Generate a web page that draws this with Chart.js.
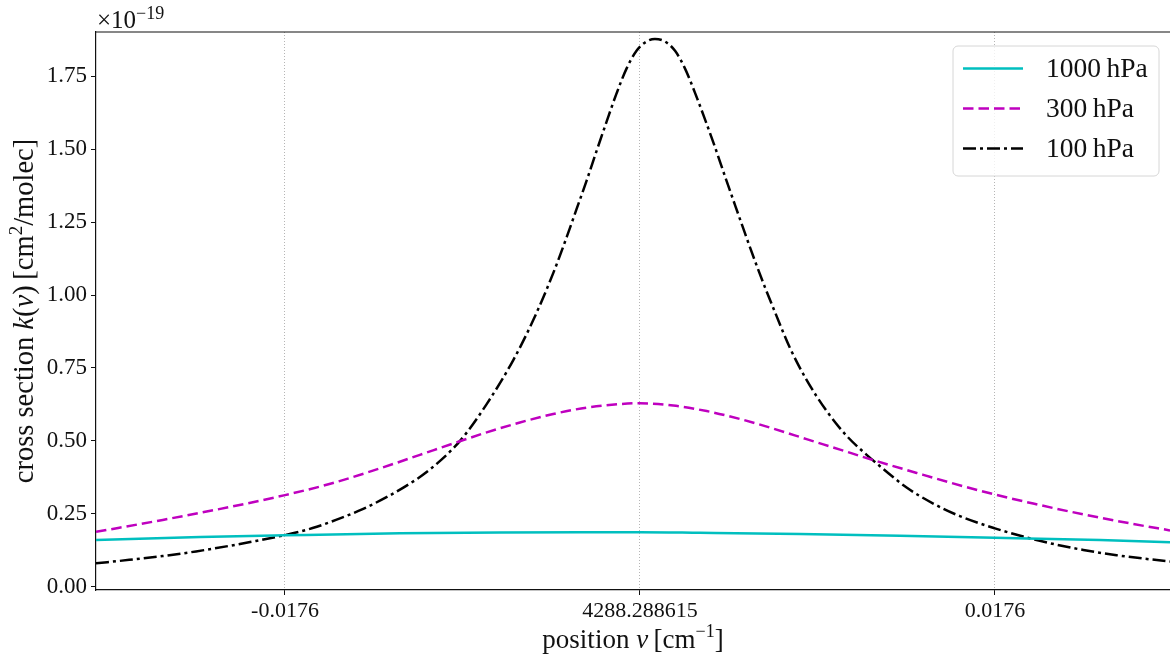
<!DOCTYPE html>
<html lang="en">
<head>
<meta charset="utf-8">
<title>cross section k(ν)</title>
<script src="https://cdn.jsdelivr.net/npm/chart.js@4.4.1/dist/chart.umd.min.js"></script>
<style>
  html, body { margin: 0; padding: 0; background: #fff; }
  #wrap { position: relative; width: 1170px; height: 660px; }
</style>
</head>
<body>
<div id="wrap"><canvas id="chart-profil"></canvas></div>
<script>
/* =========================================================
   Profil de raie : section efficace k(nu) autour du centre
   4288.288615 cm-1, pour trois pressions (1000/300/100 hPa)
   ========================================================= */

/* ---- Données (x = écart au centre en cm-1, y en 1e-19 cm2/molec) ---- */
const nu1000 = [-0.02697, -0.02181, -0.01760, -0.01190, -0.00694, -0.00297, 0, 0.00297, 0.00793, 0.01289, 0.01760, 0.02281, 0.02628];
const k1000  = [0.160, 0.170, 0.176, 0.183, 0.186, 0.187, 0.187, 0.185, 0.181, 0.175, 0.168, 0.160, 0.152];

const nu300 = [-0.02697, -0.02366, -0.02036, -0.01760, -0.01540, -0.01292, -0.01091, -0.00926, -0.00760, -0.00595,
               -0.00430, -0.00264, -0.00099, 0, 0.00165, 0.00331, 0.00496, 0.00661, 0.00826, 0.00992,
               0.01157, 0.01372, 0.01537, 0.01760, 0.01950, 0.02198, 0.02446, 0.02628];
const k300  = [0.188, 0.229, 0.273, 0.314, 0.352, 0.405, 0.452, 0.491, 0.529, 0.563,
               0.592, 0.614, 0.626, 0.629, 0.621, 0.602, 0.575, 0.542, 0.506, 0.470,
               0.434, 0.390, 0.357, 0.316, 0.285, 0.248, 0.215, 0.193];

const nu100 = [-0.02697, -0.02532, -0.02366, -0.02201, -0.02036, -0.01904, -0.01760, -0.01623, -0.01507, -0.01375,
               -0.01259, -0.01144, -0.01041, -0.00892, -0.00760, -0.00628, -0.00529, -0.00430, -0.00363, -0.00314,
               -0.00264, -0.00215, -0.00165, -0.00116, -0.00066, -0.00016, 0.00033, 0.00074, 0.00124, 0.00174,
               0.00223, 0.00273, 0.00322, 0.00372, 0.00421, 0.00471, 0.00521, 0.00570, 0.00620, 0.00669,
               0.00744, 0.00826, 0.00926, 0.01025, 0.01124, 0.01206, 0.01322, 0.01454, 0.01586, 0.01760,
               0.01900, 0.02033, 0.02198, 0.02363, 0.02628];
const k100  = [0.080, 0.092, 0.105, 0.121, 0.140, 0.157, 0.177, 0.201, 0.229, 0.266,
               0.306, 0.352, 0.402, 0.500, 0.626, 0.777, 0.914, 1.075, 1.199, 1.295,
               1.393, 1.494, 1.595, 1.691, 1.777, 1.838, 1.869, 1.878, 1.869, 1.837,
               1.777, 1.693, 1.603, 1.507, 1.408, 1.309, 1.211, 1.117, 1.026, 0.942,
               0.818, 0.709, 0.602, 0.517, 0.452, 0.404, 0.340, 0.285, 0.242, 0.200,
               0.172, 0.149, 0.126, 0.108, 0.086];

const seriesLabels = ['1000\u2009hPa', '300\u2009hPa', '100\u2009hPa'];

/* ---- Graduations ---- */
const xTicks      = [-0.0176, 0, 0.0176];
const xTickLabels = ['-0.0176', '4288.288615', '0.0176'];
const yTicks      = [0, 0.25, 0.5, 0.75, 1.0, 1.25, 1.5, 1.75];

const X_MIN = -0.02697, X_MAX = 0.02628;
const Y_MIN = -0.0113,  Y_MAX = 1.9016;

const SERIF = '"Liberation Serif", "DejaVu Serif", serif';
const INK   = '#111';

function serie(nu, k) {
  return nu.map((x, i) => ({ x, y: k[i] }));
}

/* texte avec morceaux de polices différentes (italique, exposants) */
function texteRiche(ctx, morceaux, x, y, align = 'center') {
  let largeur = 0;
  morceaux.forEach(([t, f]) => { ctx.font = f; largeur += ctx.measureText(t).width; });
  let cx = align === 'center' ? x - largeur / 2 : x;
  morceaux.forEach(([t, f, dy = 0]) => {
    ctx.font = f;
    ctx.fillText(t, cx, y + dy);
    cx += ctx.measureText(t).width;
  });
}

/* ---- Plugin : cadre haut, titres d'axes, facteur 1e-19 ---- */
const habillage = {
  id: 'habillage',
  afterDraw(chart) {
    const { ctx, chartArea: a } = chart;
    ctx.save();

    /* spine du haut */
    ctx.strokeStyle = INK;
    ctx.lineWidth = 1.2;
    ctx.beginPath();
    ctx.moveTo(a.left - 0.6, a.top);
    ctx.lineTo(a.right, a.top);
    ctx.stroke();

    ctx.fillStyle = INK;
    ctx.textAlign = 'left';
    ctx.textBaseline = 'alphabetic';

    /* titre axe x */
    const rx = `27px ${SERIF}`, ix = `italic 27px ${SERIF}`, sx = `18px ${SERIF}`;
    texteRiche(ctx, [
      ['position ', rx], ['ν', ix], ['\u2009[cm', rx], ['−1', sx, -11], [']', rx],
    ], (a.left + a.right) / 2, 648);

    /* titre axe y (vertical) */
    const ry = `28.5px ${SERIF}`, iy = `italic 28.5px ${SERIF}`, sy = `19px ${SERIF}`;
    ctx.save();
    ctx.translate(33, (a.top + a.bottom) / 2);
    ctx.rotate(-Math.PI / 2);
    texteRiche(ctx, [
      ['cross section ', ry], ['k', iy], ['(', ry], ['ν', iy], [')\u2009[cm', ry],
      ['2', sy, -11], ['/molec]', ry],
    ], 0, 0);
    ctx.restore();

    /* facteur d'échelle */
    texteRiche(ctx, [
      ['×10', `25px ${SERIF}`], ['−19', `18px ${SERIF}`, -9],
    ], a.left + 1, 28, 'left');

    ctx.restore();
  },
};

/* ---- Plugin : légende encadrée en haut à droite ---- */
const legendeCadre = {
  id: 'legendeCadre',
  afterDraw(chart) {
    const { ctx, chartArea: a } = chart;
    const w = 206, h = 130;
    const x0 = a.right - 11 - w, y0 = a.top + 14;

    ctx.save();
    ctx.beginPath();
    ctx.roundRect(x0, y0, w, h, 5);
    ctx.fillStyle = 'rgba(255,255,255,0.8)';
    ctx.fill();
    ctx.strokeStyle = '#d6d6d6';
    ctx.lineWidth = 1;
    ctx.stroke();

    chart.data.datasets.forEach((ds, i) => {
      const y = y0 + 22.5 + i * 40;
      ctx.beginPath();
      ctx.setLineDash(ds.borderDash || []);
      ctx.lineCap = 'butt';
      ctx.strokeStyle = ds.borderColor;
      ctx.lineWidth = ds.borderWidth;
      ctx.moveTo(x0 + 10, y);
      ctx.lineTo(x0 + 70, y);
      ctx.stroke();

      ctx.setLineDash([]);
      ctx.fillStyle = INK;
      ctx.font = `27.5px ${SERIF}`;
      ctx.textAlign = 'left';
      ctx.textBaseline = 'middle';
      ctx.fillText(ds.label, x0 + 93, y + 1);
    });
    ctx.restore();
  },
};

/* ---- Graphique ---- */
new Chart(document.getElementById('chart-profil'), {
  type: 'line',
  data: {
    datasets: [
      { label: seriesLabels[0], data: serie(nu1000, k1000), borderColor: '#00bfbf', borderWidth: 2.5, borderDash: [] },
      { label: seriesLabels[1], data: serie(nu300, k300),   borderColor: '#bf00bf', borderWidth: 2.5, borderDash: [10.5, 5] },
      { label: seriesLabels[2], data: serie(nu100, k100),   borderColor: '#000000', borderWidth: 2.5, borderDash: [13, 4, 3, 4] },
    ],
  },
  options: {
    responsive: true,
    maintainAspectRatio: false,
    animation: false,
    elements: {
      point: { radius: 0, hoverRadius: 0 },
      line:  { cubicInterpolationMode: 'monotone', borderCapStyle: 'butt', fill: false },
    },
    layout: { padding: { top: 32, left: 0, right: 0, bottom: 0 } },
    plugins: {
      legend:  { display: false },
      tooltip: { enabled: false },
    },
    scales: {
      x: {
        type: 'linear',
        min: X_MIN,
        max: X_MAX,
        afterBuildTicks: s => { s.ticks = xTicks.map(v => ({ value: v })); },
        afterFit: s => { s.height = 70; },
        ticks: {
          autoSkip: false,
          maxRotation: 0,
          padding: 3,
          color: INK,
          font: { family: SERIF, size: 22 },
          callback: (v, i) => xTickLabels[i],
        },
        grid: {
          color: '#b5b5b5',
          lineWidth: 1,
          tickLength: 5,
          tickColor: INK,
          tickWidth: 1,
        },
        border: { display: true, color: INK, width: 1.2, dash: [1, 2] },
      },
      y: {
        min: Y_MIN,
        max: Y_MAX,
        afterBuildTicks: s => { s.ticks = yTicks.map(v => ({ value: v })); },
        afterFit: s => { s.width = 96; },
        ticks: {
          padding: 4,
          color: INK,
          font: { family: SERIF, size: 23 },
          callback: v => v.toFixed(2),
        },
        grid: { drawOnChartArea: false, tickLength: 5, tickColor: INK, tickWidth: 1 },
        border: { display: true, color: INK, width: 1.2 },
      },
    },
  },
  plugins: [habillage, legendeCadre],
});
</script>
</body>
</html>
